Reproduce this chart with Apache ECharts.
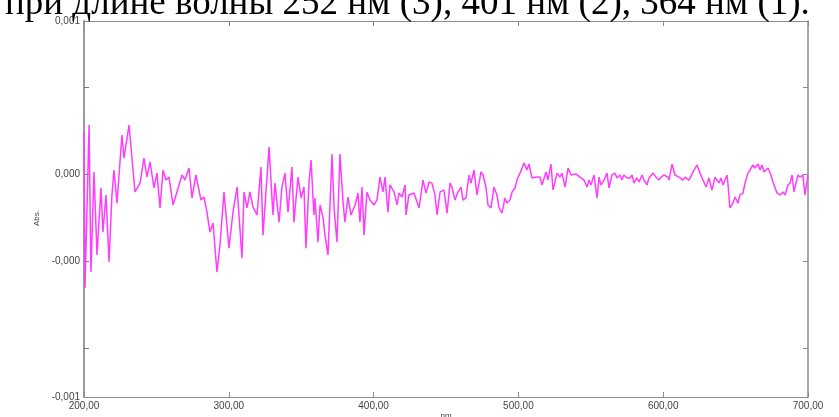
<!DOCTYPE html>
<html>
<head>
<meta charset="utf-8">
<script src="https://cdn.jsdelivr.net/npm/echarts@6/dist/echarts.min.js"></script>
<style>html,body{margin:0;padding:0;background:#fff}#c{width:839px;height:417px}</style>
</head>
<body>
<div id="c"></div>
<script>
// Wavelength, nm
const wavelength = [200,200.7,203.5,204.8,206.9,209.0,211.7,213.1,215.2,217.3,219.3,220.7,222.8,226.2,227.6,231.1,235.2,238.7,241.4,243.5,245.6,248.3,250.4,252.5,254.6,256.6,258.7,261.5,264.2,267.7,269.7,272.5,274.6,277.3,280.8,282.9,284.9,287.0,289.1,291.8,293.9,296.7,300.1,302.9,305.7,309.1,310.5,312.6,314.6,316.7,319.5,322.2,323.6,
327.8,330.5,331.9,334.7,336.7,338.8,340.9,343.6,345.0,347.8,349.9,351.9,353.3,355.4,356.8,358.8,359.5,361.6,363.0,365.1,366.4,368.5,371.3,372.7,374.7,376.8,378.9,380.2,382.3,384.4,387.2,389.2,390.6,392.0,393.4,395.4,397.5,400.3,402.3,404.4,406.5,407.9,409.9,411.3,414.1,416.2,417.5,419.6,421.7,422.4,424.4,427.9,431.4,434.1,436.2,438.3,440.3,442.4,443.8,445.9,448.6,
450.7,452.8,454.1,456.2,458.3,460.4,461.7,463.8,465.9,467.3,469.3,471.4,474.2,475.6,477.6,479.0,481.1,483.1,485.2,486.6,488.7,490.7,492.1,494.2,495.6,497.7,499.0,501.1,503.9,505.9,507.3,509.4,512.8,514.9,516.3,519.1,520.4,522.5,523.9,526.7,528.7,530.1,532.2,534.3,536.3,539.8,542.5,545.3,547.4,548.8,550.1,552.2,554.3,555.7,557.0,559.1,561.2,562.6,564.6,566.7,568.1,570.2,571.5,572.9,575.0,
577.1,578.5,579.8,581.9,583.3,585.4,586.7,588.8,590.2,593.0,595.0,597.1,598.5,600.6,603.3,604.0,606.1,608.1,610.9,613.7,615.1,617.8,620.6,623.3,625.4,627.5,629.6,631.6,633.7,635.8,638.5,639.9,641.3,644.1,644.8,646.1,648.2,649.6,651.7,653.0,655.1,656.5,658.6,659.9,662.0,663.4,665.5,666.9,668.2,669.6,672.4,674.4,675.8,678.6,680.7,682.7,684.1,686.2,687.6,689.0,690.3,693.1,694.5,696.5,697.9,700];

// Absorbance, in units of 0.001 Abs
const absorbance = [0.406,-0.422,0.443,-0.337,0.194,-0.247,0.109,-0.125,0.072,-0.284,0.072,0.204,0.029,0.390,0.268,0.443,0.088,0.135,0.268,0.167,0.247,0.109,0.188,0.003,0.204,0.151,0.167,0.019,0.088,0.178,0.151,0.215,0.056,0.178,0.045,0.061,-0.019,-0.125,-0.077,-0.337,-0.194,0.088,-0.210,-0.019,0.114,-0.263,0.088,0.003,0.088,0.008,-0.034,0.220,-0.141,
0.326,-0.034,0.135,-0.072,0.114,0.188,-0.019,0.220,-0.072,0.167,0.056,0.114,-0.210,0.141,0.257,-0.034,0.056,-0.178,0.019,-0.050,-0.141,-0.247,0.289,0.003,-0.178,0.289,0.034,-0.072,0.061,-0.034,0.019,0.082,-0.072,0.114,-0.141,0.088,0.045,0.019,0.045,0.167,0.088,0.167,-0.019,0.125,0.088,0.019,0.082,0.061,0.125,-0.034,0.072,0.082,0.003,0.151,0.082,0.141,0.135,0.072,-0.034,0.088,0.098,
-0.024,0.135,0.114,0.045,0.088,0.114,0.045,0.056,0.178,0.135,0.204,0.072,0.194,0.178,0.114,0.019,0.003,0.114,0.072,0.003,-0.024,0.056,0.029,0.045,0.088,0.109,0.151,0.188,0.241,0.204,0.236,0.162,0.167,0.167,0.125,0.194,0.151,0.236,0.098,0.188,0.167,0.188,0.114,0.215,0.178,0.183,0.167,0.151,0.114,0.151,0.125,0.178,0.056,0.167,0.125,0.151,0.188,0.109,0.178,0.188,0.162,0.178,0.151,0.178,0.162,
0.162,0.178,0.135,0.162,0.141,0.178,0.151,0.125,0.162,0.188,0.167,0.151,0.167,0.178,0.167,0.151,0.236,0.178,0.167,0.151,0.167,0.151,0.194,0.231,0.188,0.151,0.114,0.162,0.098,0.167,0.135,0.162,0.125,0.178,0.125,0.003,0.029,0.061,0.029,0.072,0.082,0.135,0.188,0.178,0.231,0.215,0.236,0.204,0.231,0.194,0.215,0.178,0.141,0.082,0.072,0.088,0.072,0.125,0.135,0.178,0.088,0.178,0.167,0.178,0.072,0.178];

const xTicks = [200,300,400,500,600,700];
const yTickValues = [0.645,0.183,-0.279,-0.740];
const yLabelValues = [0.995,0.183,-0.279,-1];
const captionText = 'при длине волны 252 нм (3), 401 нм (2), 364 нм (1).';
const yAxisTitle = 'Abs.';
const xAxisTitle = 'nm';

const seriesData = wavelength.map((w,i)=>[w, absorbance[i]]);
const axisGray = '#8c8c8c';
const fmtX = v => v.toFixed(2).replace('.', ',');
const fmtY = v => (v/1000).toFixed(3).replace('.', ',');

const chart = echarts.init(document.getElementById('c'), null, {renderer:'canvas'});
chart.setOption({
  animation:false,
  backgroundColor:'#fff',
  title:{
    text:captionText, left:0, top:-19,
    textStyle:{fontFamily:'Liberation Serif', fontSize:37, fontWeight:'normal', color:'#000'}
  },
  graphic:[{
    type:'text', left:33, top:210, rotation:Math.PI/2,
    style:{text:yAxisTitle, fontFamily:'Liberation Sans', fontSize:8, fill:'#444'}
  }],
  grid:{left:84, right:31, top:21, bottom:20, containLabel:false, outerBoundsMode:'none'},
  xAxis:[{
    type:'value', min:xTicks[0], max:xTicks[xTicks.length-1], interval:100,
    axisLine:{show:true, onZero:false, lineStyle:{color:axisGray, width:1.2}},
    axisTick:{show:true, inside:true, length:5, lineStyle:{color:axisGray}},
    axisLabel:{formatter:fmtX, fontFamily:'Liberation Sans', fontSize:10, color:'#444', margin:4},
    splitLine:{show:false},
    name:xAxisTitle, nameLocation:'middle', nameGap:15, nameMoveOverlap:false,
    nameTextStyle:{fontFamily:'Liberation Sans', fontSize:8, color:'#444'}
  },{
    type:'value', position:'top', min:xTicks[0], max:xTicks[xTicks.length-1], interval:100,
    axisLine:{show:true, onZero:false, lineStyle:{color:axisGray, width:1.2}},
    axisTick:{show:true, inside:true, length:5, lineStyle:{color:axisGray}},
    axisLabel:{show:false}, splitLine:{show:false}
  }],
  yAxis:[{
    type:'value', min:-1, max:0.995,
    axisLine:{show:true, onZero:false, lineStyle:{color:'#9a9a9a', width:2}},
    axisTick:{show:true, inside:true, length:5, customValues:yTickValues, lineStyle:{color:'#777'}},
    axisLabel:{customValues:yLabelValues, formatter:fmtY, fontFamily:'Liberation Sans', fontSize:10, color:'#444', margin:4},
    splitLine:{show:false}
  },{
    type:'value', position:'right', min:-1, max:0.995,
    axisLine:{show:true, onZero:false, lineStyle:{color:axisGray, width:1.5}},
    axisTick:{show:true, inside:true, length:5, customValues:yTickValues, lineStyle:{color:axisGray}},
    axisLabel:{show:false}, splitLine:{show:false}
  }],
  series:[{
    type:'line', data:seriesData, xAxisIndex:0, yAxisIndex:0,
    showSymbol:false, symbol:'none', smooth:false,
    lineStyle:{color:'#ff3cff', width:1.5}
  }]
});
</script>
</body>
</html>
